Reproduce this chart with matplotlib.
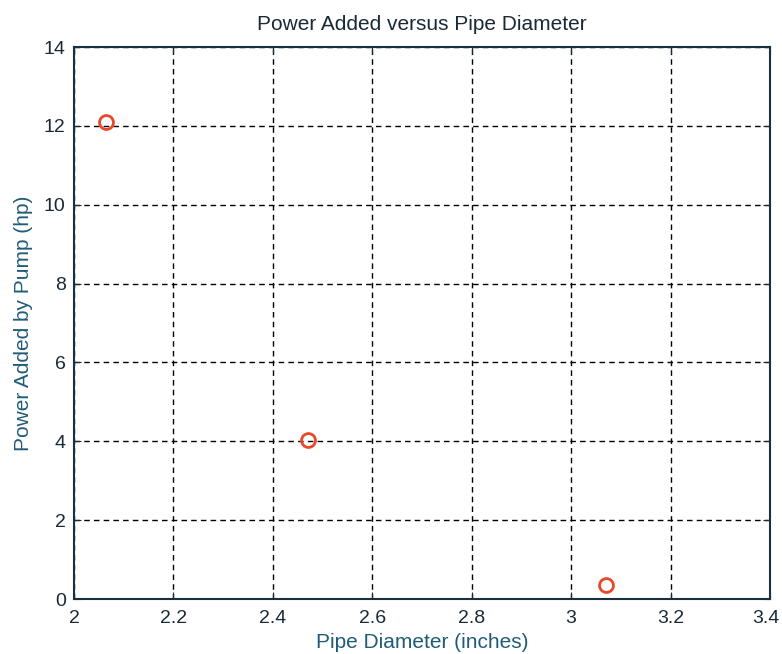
import matplotlib.pyplot as plt
import matplotlib.transforms as mtransforms

diameter = [2.065, 2.47, 3.07]
power = [12.1, 4.02, 0.35]

x_ticks = [2, 2.2, 2.4, 2.6, 2.8, 3, 3.2, 3.4]
x_labels = ['2', '2.2', '2.4', '2.6', '2.8', '3', '3.2', '3.4']
y_ticks = [0, 2, 4, 6, 8, 10, 12, 14]

plt.rcParams['font.family'] = ['Liberation Sans', 'DejaVu Sans']

fig = plt.figure(figsize=(7.82, 6.54), dpi=100)
ax = fig.add_axes([74 / 782, 1 - 599 / 654, (770 - 74) / 782, (599 - 47) / 654])

ax.plot(diameter, power, linestyle='none', marker='o', markersize=10,
        markerfacecolor='none', markeredgecolor='#e8492a', markeredgewidth=2)

ax.set_xlim(2, 3.4)
ax.set_ylim(0, 14)
ax.set_xticks(x_ticks)
ax.set_xticklabels(x_labels)
ax.set_yticks(y_ticks)
ax.tick_params(direction='in', top=True, right=True, labelsize=14, colors='#1a2a35',
               length=5)
ax.tick_params(axis='x', pad=8)
ax.tick_params(axis='y', pad=6)

# keep the last x label inside the figure
last = ax.get_xticklabels()[-1]
last.set_transform(last.get_transform()
                   + mtransforms.ScaledTranslation(-4 / 100, 0, fig.dpi_scale_trans))

ax.grid(True, color='black', linestyle=(0, (4, 3)), linewidth=1)
for s in ax.spines.values():
    s.set_color('#1a2f40')
    s.set_linewidth(1.5)

ax.set_title('Power Added versus Pipe Diameter', fontsize=15, color='#1a2a35', pad=12)
ax.set_xlabel('Pipe Diameter (inches)', fontsize=15, color='#1f5c78', labelpad=4)
ax.set_ylabel('Power Added by Pump (hp)', fontsize=15, color='#1f5c78', labelpad=8)

fig.savefig('out.png', dpi=100)
